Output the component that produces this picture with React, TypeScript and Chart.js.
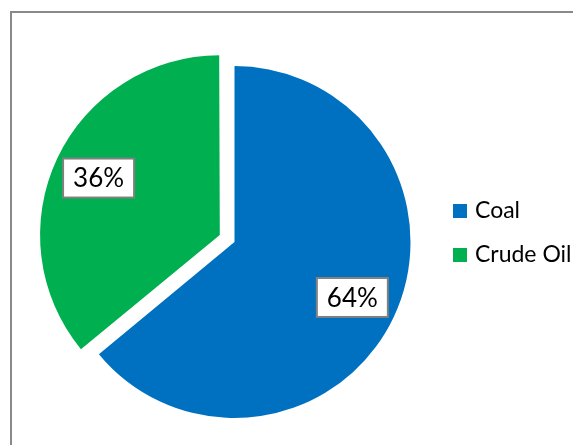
import React, { useEffect, useRef } from "react";
import { Chart, registerables } from "chart.js";

Chart.register(...registerables);

const categories: string[] = ["Coal", "Crude Oil"];
const shares: number[] = [64, 36];
const percentLabels: string[] = ["64%", "36%"];
const sliceColors: string[] = ["#0070C0", "#00B050"];
const sliceOffsets: number[] = [0, 65];

const FONT = "Lato, 'Noto Sans', sans-serif";

const labelPlugin = {
  id: "pieLabels",
  afterDatasetsDraw(chart: any) {
    const ctx = chart.ctx;
    const meta = chart.getDatasetMeta(0);
    ctx.save();
    meta.data.forEach((arc: any, i: number) => {
      const { x, y, startAngle, endAngle, outerRadius } = arc.getProps(
        ["x", "y", "startAngle", "endAngle", "outerRadius"],
        true
      );
      const mid = (startAngle + endAngle) / 2;
      const circ = endAngle - startAngle;
      const off = (arc.options.offset || 0) / 4;
      const fix = 1 - Math.sin(Math.min(Math.PI, circ));
      const t = off * (1 + fix);
      const d = t + outerRadius * 0.74;
      const cx = x + Math.cos(mid) * d;
      const cy = y + Math.sin(mid) * d;
      ctx.font = `26px ${FONT}`;
      const w = ctx.measureText(percentLabels[i]).width;
      const bw = w + 20;
      const bh = 39;
      ctx.fillStyle = "#ffffff";
      ctx.fillRect(cx - bw / 2, cy - bh / 2, bw, bh);
      ctx.strokeStyle = "#808080";
      ctx.lineWidth = 2;
      ctx.strokeRect(cx - bw / 2, cy - bh / 2, bw, bh);
      ctx.fillStyle = "#000000";
      ctx.textAlign = "center";
      ctx.textBaseline = "middle";
      ctx.fillText(percentLabels[i], cx, cy + 1);
    });
    ctx.restore();
  },
  afterDraw(chart: any) {
    const ctx = chart.ctx;
    ctx.save();
    categories.forEach((name, i) => {
      const rowY = 211 + i * 44;
      ctx.fillStyle = sliceColors[i];
      ctx.fillRect(453, rowY - 7, 14, 14);
      ctx.fillStyle = "#000000";
      ctx.font = `23px ${FONT}`;
      ctx.textAlign = "left";
      ctx.textBaseline = "middle";
      ctx.fillText(name, 475, rowY);
    });
    ctx.restore();
  },
};

export default function App() {
  const ref = useRef<HTMLCanvasElement | null>(null);
  useEffect(() => {
    if (!ref.current) return;
    const chart = new Chart(ref.current, {
      type: "pie",
      data: {
        labels: categories,
        datasets: [
          {
            data: shares,
            backgroundColor: sliceColors,
            borderWidth: 0,
            offset: sliceOffsets,
            hoverOffset: 0,
          },
        ],
      },
      options: {
        responsive: false,
        animation: false,
        radius: 176,
        layout: { padding: { left: 0, right: 104, top: 39, bottom: 0 } },
        plugins: {
          legend: { display: false },
          tooltip: { enabled: false },
        },
        events: [],
      } as any,
      plugins: [labelPlugin],
    });
    return () => chart.destroy();
  }, []);
  return (
    <div
      style={{
        position: "fixed",
        left: 0,
        top: 0,
        width: 573,
        height: 445,
        background: "#ffffff",
        overflow: "hidden",
      }}
    >
      <div
        style={{
          position: "absolute",
          left: 10,
          top: 11,
          right: -10,
          bottom: -10,
          borderLeft: "2px solid #898989",
          borderTop: "2px solid #898989",
        }}
      />
      <canvas
        ref={ref}
        width={573}
        height={445}
        style={{ position: "absolute", left: 0, top: 0 }}
      />
    </div>
  );
}
